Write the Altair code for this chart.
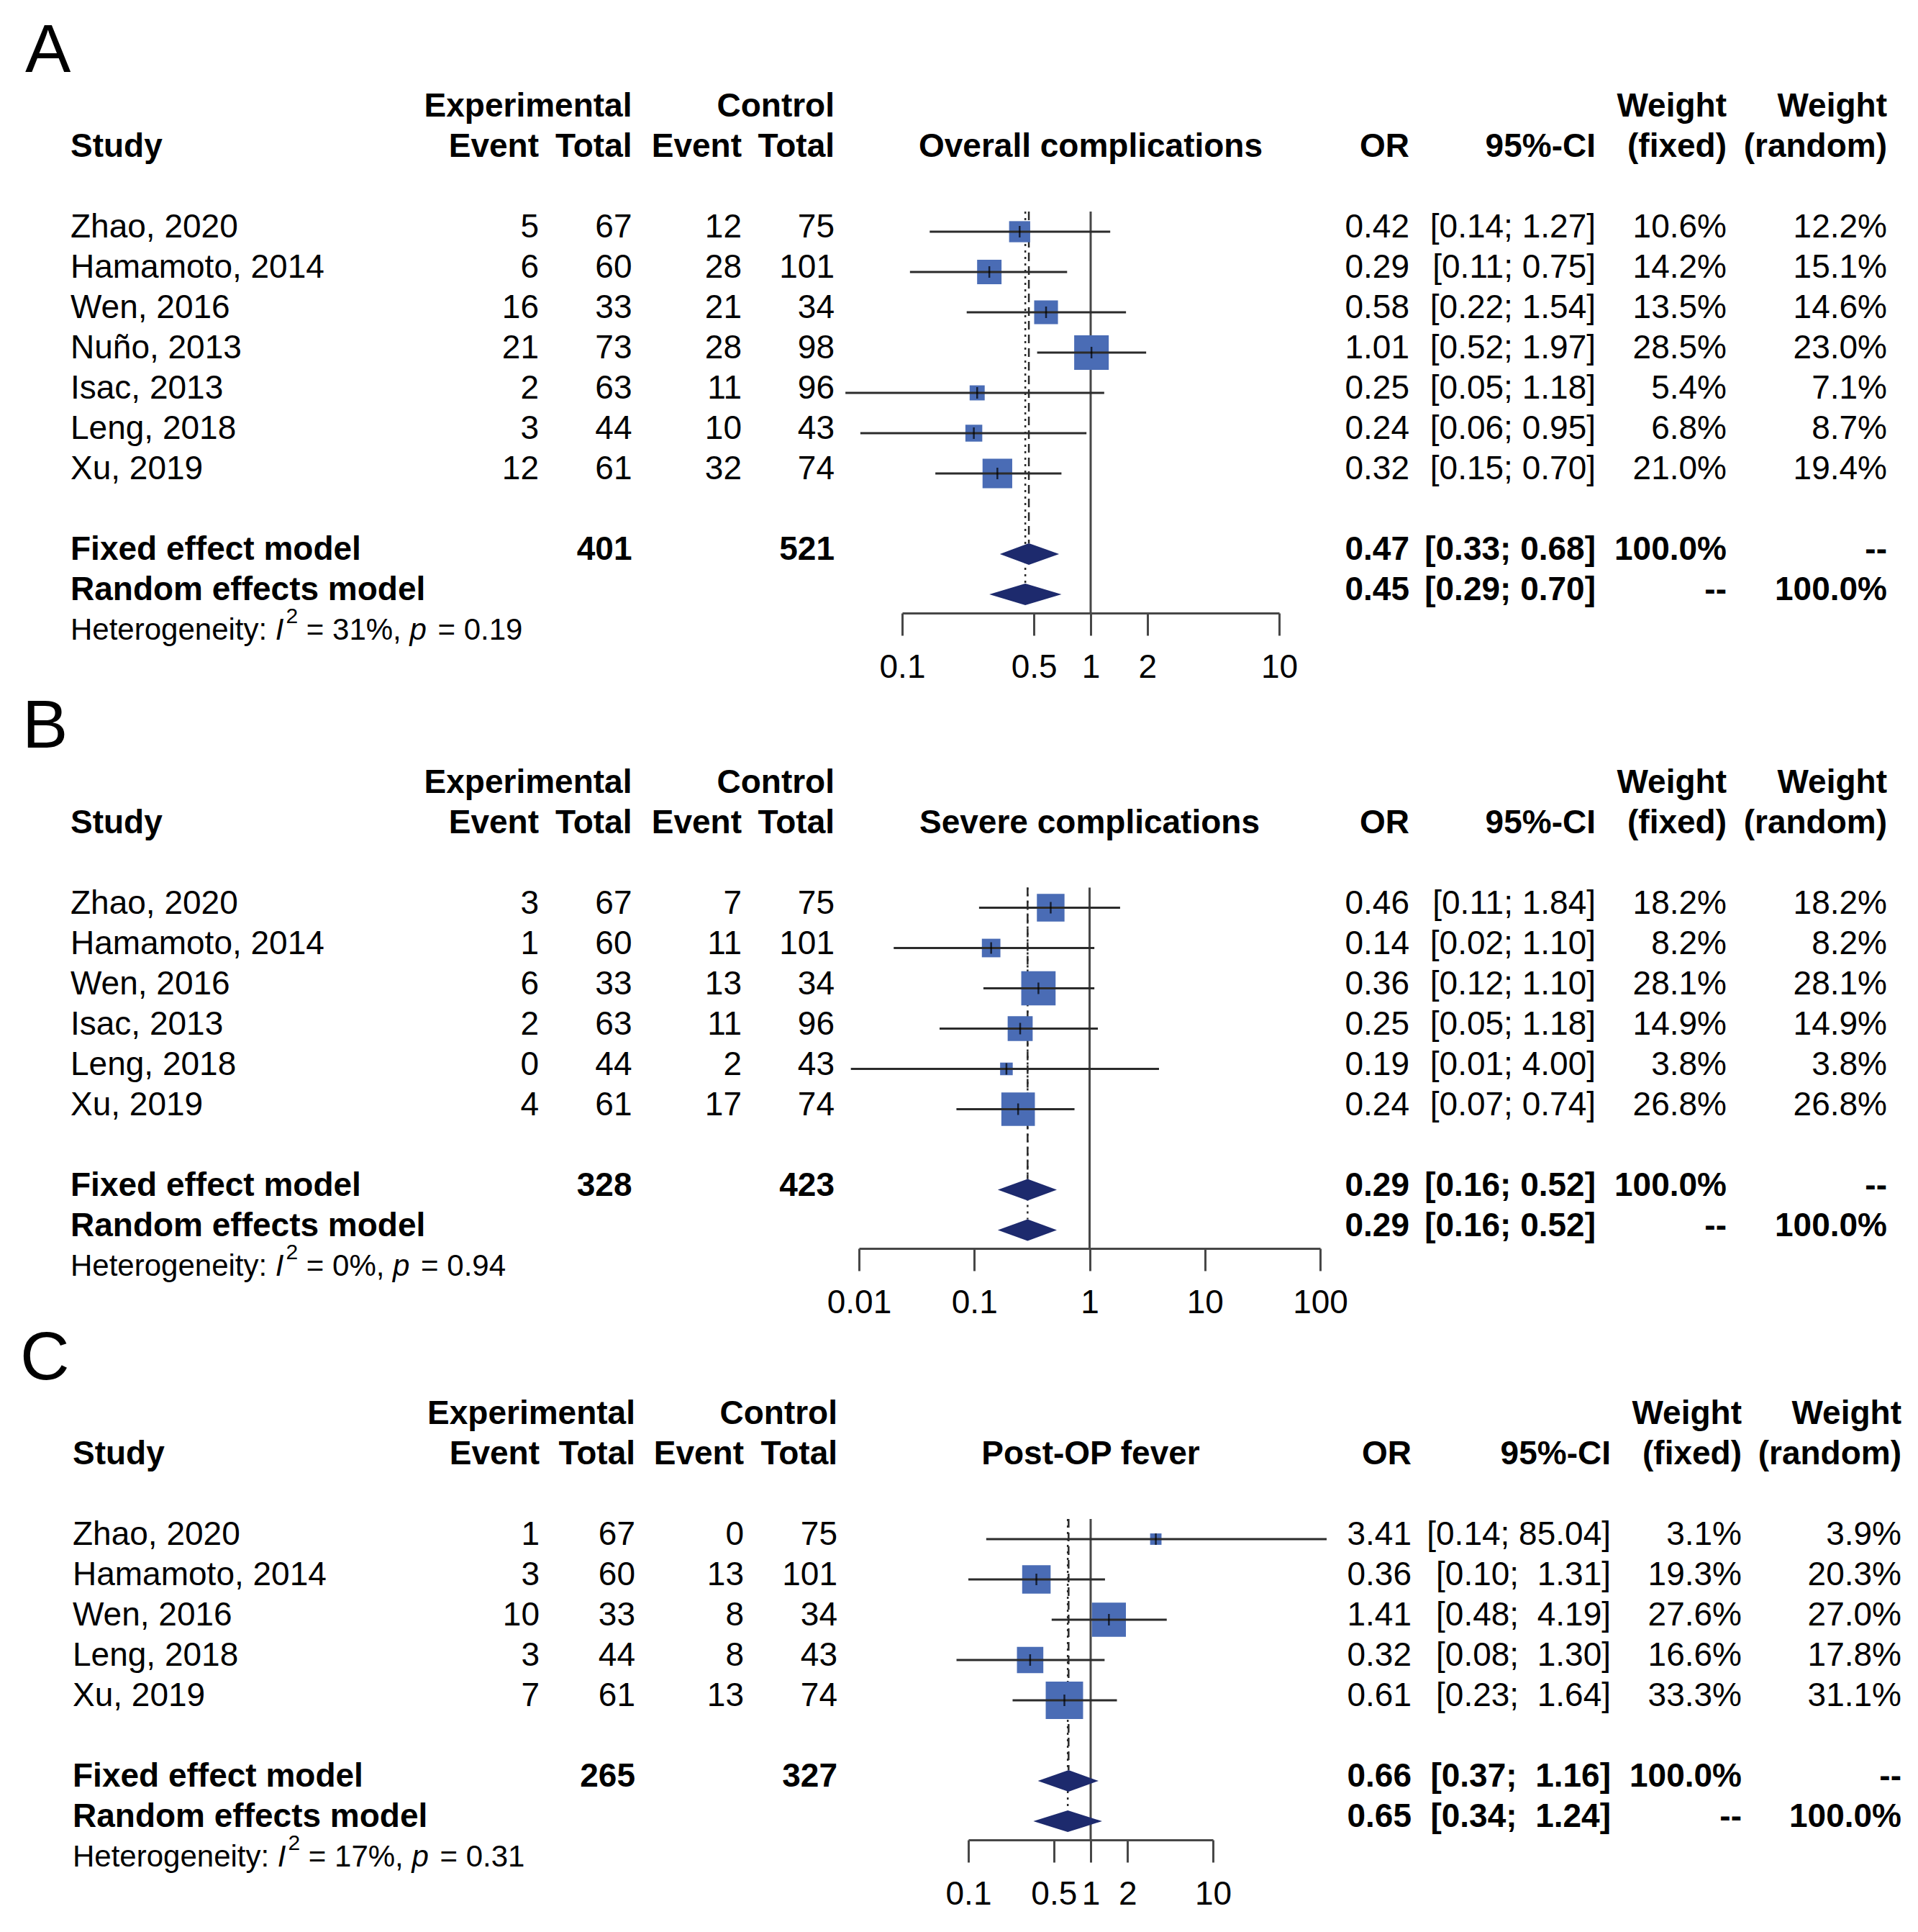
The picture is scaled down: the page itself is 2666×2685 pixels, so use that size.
import altair as alt
import pandas as pd

# ---------------- data ----------------
A_title = "Overall complications"
A_study = ["Zhao, 2020", "Hamamoto, 2014", "Wen, 2016", "Nu\u00f1o, 2013", "Isac, 2013", "Leng, 2018", "Xu, 2019"]
A_exp_event = [5, 6, 16, 21, 2, 3, 12]
A_exp_total = [67, 60, 33, 73, 63, 44, 61]
A_ctl_event = [12, 28, 21, 28, 11, 10, 32]
A_ctl_total = [75, 101, 34, 98, 96, 43, 74]
A_or = [0.42, 0.29, 0.58, 1.01, 0.25, 0.24, 0.32]
A_lo = [0.14, 0.11, 0.22, 0.52, 0.05, 0.06, 0.15]
A_hi = [1.27, 0.75, 1.54, 1.97, 1.18, 0.95, 0.70]
A_w_fixed = [10.6, 14.2, 13.5, 28.5, 5.4, 6.8, 21.0]
A_w_random = [12.2, 15.1, 14.6, 23.0, 7.1, 8.7, 19.4]
A_fixed = [0.47, 0.33, 0.68]
A_random = [0.45, 0.29, 0.70]
A_totals = [401, 521]
A_het = ["31%", "0.19"]
A_ticks = [0.1, 0.5, 1, 2, 10]

B_title = "Severe complications"
B_study = ["Zhao, 2020", "Hamamoto, 2014", "Wen, 2016", "Isac, 2013", "Leng, 2018", "Xu, 2019"]
B_exp_event = [3, 1, 6, 2, 0, 4]
B_exp_total = [67, 60, 33, 63, 44, 61]
B_ctl_event = [7, 11, 13, 11, 2, 17]
B_ctl_total = [75, 101, 34, 96, 43, 74]
B_or = [0.46, 0.14, 0.36, 0.25, 0.19, 0.24]
B_lo = [0.11, 0.02, 0.12, 0.05, 0.0085, 0.07]
B_hi = [1.84, 1.10, 1.10, 1.18, 4.00, 0.74]
B_w_fixed = [18.2, 8.2, 28.1, 14.9, 3.8, 26.8]
B_w_random = [18.2, 8.2, 28.1, 14.9, 3.8, 26.8]
B_fixed = [0.29, 0.16, 0.52]
B_random = [0.29, 0.16, 0.52]
B_totals = [328, 423]
B_het = ["0%", "0.94"]
B_ticks = [0.01, 0.1, 1, 10, 100]

C_title = "Post-OP fever"
C_study = ["Zhao, 2020", "Hamamoto, 2014", "Wen, 2016", "Leng, 2018", "Xu, 2019"]
C_exp_event = [1, 3, 10, 3, 7]
C_exp_total = [67, 60, 33, 44, 61]
C_ctl_event = [0, 13, 8, 8, 13]
C_ctl_total = [75, 101, 34, 43, 74]
C_or = [3.41, 0.36, 1.41, 0.32, 0.61]
C_lo = [0.14, 0.10, 0.48, 0.08, 0.23]
C_hi = [85.04, 1.31, 4.19, 1.30, 1.64]
C_w_fixed = [3.1, 19.3, 27.6, 16.6, 33.3]
C_w_random = [3.9, 20.3, 27.0, 17.8, 31.1]
C_fixed = [0.66, 0.37, 1.16]
C_random = [0.65, 0.34, 1.24]
C_totals = [265, 327]
C_het = ["17%", "0.31"]
C_ticks = [0.1, 0.5, 1, 2, 10]

# ---------------- layout / style ----------------
FONT = "Liberation Sans"
FS = 46
HET_FS = 42
SUP_FS = 30
ROW = 56.0
OFF = 8  # page margin
TDY = -0.107  # text vertical offset (rows)
DH = 0.27  # diamond half height (rows)
SQ_COL = "#4A6CB5"
DIA_COL = "#1D2A6D"
LINE_COL = "#2b2b2b"
AX_COL = "#474747"

LAYOUT = {
    "A": dict(top=8, hdr=154, axis=852, letter_x=35, left=98,
              cols=[749, 878.5, 1031, 1160, 1959, 2218, 2400, 2623],
              xr=[1254, 1778], k=9.0),
    "B": dict(top=952, hdr=1093.5, axis=1735, letter_x=31, left=98,
              cols=[749, 878.5, 1031, 1160, 1959, 2218, 2400, 2623],
              xr=[1194, 1835], k=9.0),
    "C": dict(top=1835, hdr=1971, axis=2557, letter_x=28, left=101,
              cols=[750, 883, 1034, 1164, 1962, 2239, 2421, 2643],
              xr=[1346, 1686], k=8.2),
}

ARIAL = {' ': 278, '%': 889, ',': 278, '.': 278, ':': 278, '=': 584, 'H': 722, 'I': 278,
         'e': 556, 't': 278, 'r': 333, 'o': 556, 'g': 556, 'n': 556, 'i': 222, 'y': 500, 'p': 556}
for _d in "0123456789":
    ARIAL[_d] = 556


def tw(s, size):
    return sum(ARIAL.get(c, 556) for c in s) * size / 1000.0


PANELS = [
    ("A", dict(title=A_title, study=A_study, ee=A_exp_event, et=A_exp_total, ce=A_ctl_event,
               ct=A_ctl_total, orr=A_or, lo=A_lo, hi=A_hi, wf=A_w_fixed, wr=A_w_random,
               fixed=A_fixed, random=A_random, tot=A_totals, het=A_het, ticks=A_ticks)),
    ("B", dict(title=B_title, study=B_study, ee=B_exp_event, et=B_exp_total, ce=B_ctl_event,
               ct=B_ctl_total, orr=B_or, lo=B_lo, hi=B_hi, wf=B_w_fixed, wr=B_w_random,
               fixed=B_fixed, random=B_random, tot=B_totals, het=B_het, ticks=B_ticks)),
    ("C", dict(title=C_title, study=C_study, ee=C_exp_event, et=C_exp_total, ce=C_ctl_event,
               ct=C_ctl_total, orr=C_or, lo=C_lo, hi=C_hi, wf=C_w_fixed, wr=C_w_random,
               fixed=C_fixed, random=C_random, tot=C_totals, het=C_het, ticks=C_ticks)),
]

WIDTH = 2642


def fmt_ci(lo, hi, width):
    h = f"{hi:.2f}"
    pad = "\u00a0" * (width - len(h))
    return f"[{lo:.2f}; {pad}{h}]"


def panel(letter, d, L):
    n = len(d["study"])
    rt = (L["top"] - L["hdr"]) / ROW
    rb = (L["axis"] - L["hdr"]) / ROW
    H = L["axis"] - L["top"]
    ticks = d["ticks"]
    yscale = alt.Scale(domain=[rt, rb], range=[0, H], nice=False, zero=False)
    xscale = alt.Scale(type="log", domain=[ticks[0], ticks[-1]],
                       range=[L["xr"][0] - OFF, L["xr"][1] - OFF], nice=False)
    xaxis = alt.Axis(values=ticks, format="~g", title=None, grid=False,
                     domainWidth=3, domainColor=AX_COL, tickWidth=3, tickColor=AX_COL,
                     tickSize=31, labelPadding=22, labelFont=FONT, labelFontSize=FS,
                     labelColor="black", labelOverlap=False, labelFlush=False, labelBound=False)

    def X(f):
        return alt.X(f, type="quantitative", scale=xscale, axis=xaxis)

    def XD(v):
        return alt.XDatum(v, type="quantitative", scale=xscale, axis=xaxis)

    def Y(f):
        return alt.Y(f, type="quantitative", scale=yscale, axis=None)

    def YD(v):
        return alt.YDatum(v, type="quantitative", scale=yscale, axis=None)

    rows = [3 + i for i in range(n)]
    r_fix = 3 + n + 1
    r_ran = 3 + n + 2
    r_het = 3 + n + 3
    colx = dict(zip(["ee", "et", "ce", "ct", "or", "ci", "wf", "wr"], L["cols"]))

    hi_w = max(len(f"{v:.2f}") for v in list(d["hi"]) + [d["fixed"][2], d["random"][2]])

    cells = []  # (row, col, label, bold)
    cells += [(0, "et", "Experimental", True), (0, "ct", "Control", True),
              (0, "wf", "Weight", True), (0, "wr", "Weight", True),
              (1, "left", "Study", True), (1, "ee", "Event", True), (1, "et", "Total", True),
              (1, "ce", "Event", True), (1, "ct", "Total", True), (1, "or", "OR", True),
              (1, "ci", "95%-CI", True), (1, "wf", "(fixed)", True), (1, "wr", "(random)", True)]
    for i, r in enumerate(rows):
        cells += [(r, "left", d["study"][i], False),
                  (r, "ee", str(d["ee"][i]), False), (r, "et", str(d["et"][i]), False),
                  (r, "ce", str(d["ce"][i]), False), (r, "ct", str(d["ct"][i]), False),
                  (r, "or", f"{d['orr'][i]:.2f}", False),
                  (r, "ci", fmt_ci(d["lo"][i], d["hi"][i], hi_w), False),
                  (r, "wf", f"{d['wf'][i]:.1f}%", False), (r, "wr", f"{d['wr'][i]:.1f}%", False)]
    fx, rn = d["fixed"], d["random"]
    cells += [(r_fix, "left", "Fixed effect model", True),
              (r_fix, "et", str(d["tot"][0]), True), (r_fix, "ct", str(d["tot"][1]), True),
              (r_fix, "or", f"{fx[0]:.2f}", True), (r_fix, "ci", fmt_ci(fx[1], fx[2], hi_w), True),
              (r_fix, "wf", "100.0%", True), (r_fix, "wr", "--", True),
              (r_ran, "left", "Random effects model", True),
              (r_ran, "or", f"{rn[0]:.2f}", True), (r_ran, "ci", fmt_ci(rn[1], rn[2], hi_w), True),
              (r_ran, "wf", "--", True), (r_ran, "wr", "100.0%", True)]
    cdf = pd.DataFrame(cells, columns=["row", "col", "label", "bold"])
    cdf["ty"] = cdf["row"] + TDY

    layers = []

    # reference lines (behind)
    one = pd.DataFrame({"v": [1]})
    layers.append(alt.Chart(one).mark_rule(color=AX_COL, strokeWidth=3).encode(
        x=XD(1), y=YD(2.5), y2=alt.Y2Datum(rb)))
    layers.append(alt.Chart(one).mark_rule(color=LINE_COL, strokeWidth=2.5, strokeDash=[12, 7]).encode(
        x=XD(fx[0]), y=YD(2.5), y2=alt.Y2Datum(r_fix - DH)))
    layers.append(alt.Chart(one).mark_rule(color=LINE_COL, strokeWidth=2.5, strokeDash=[3, 6]).encode(
        x=XD(rn[0]), y=YD(2.5), y2=alt.Y2Datum(r_ran - DH)))

    # studies
    sdf = pd.DataFrame({"row": rows, "or": d["orr"], "lo": d["lo"], "hi": d["hi"], "wf": d["wf"]})
    k = L["k"]
    layers.append(alt.Chart(sdf).mark_square(color=SQ_COL, opacity=1, strokeWidth=0).encode(
        x=X("or"), y=Y("row"),
        size=alt.Size("wf:Q", scale=alt.Scale(type="linear", domain=[0, 100], range=[0, k * k * 100]),
                      legend=None)))
    layers.append(alt.Chart(sdf).mark_rule(color=LINE_COL, strokeWidth=3).encode(
        x=X("lo"), x2=alt.X2("hi"), y=Y("row")))
    layers.append(alt.Chart(sdf).mark_tick(orient="vertical", size=16, thickness=2.5, color="black").encode(
        x=X("or"), y=Y("row")))

    # diamonds
    ddf = pd.DataFrame({
        "model": ["fixed"] * 3 + ["random"] * 3,
        "x": [fx[1], fx[0], fx[2], rn[1], rn[0], rn[2]],
        "y": [r_fix, r_fix - DH, r_fix, r_ran, r_ran - DH, r_ran],
        "y2": [r_fix, r_fix + DH, r_fix, r_ran, r_ran + DH, r_ran],
    })
    layers.append(alt.Chart(ddf).mark_area(color=DIA_COL, orient="vertical", opacity=1).encode(
        x=X("x"), y=Y("y"), y2=alt.Y2("y2"), detail="model:N"))

    # letter
    layers.append(alt.Chart(pd.DataFrame({"label": [letter]})).mark_text(
        align="left", baseline="middle", font=FONT, fontSize=95, color="black").encode(
        x=alt.value(L["letter_x"] - OFF), y=YD(-1.49), text="label:N"))

    # title
    layers.append(alt.Chart(pd.DataFrame({"label": [d["title"]]})).mark_text(
        align="center", baseline="middle", font=FONT, fontSize=FS, fontWeight="bold", color="black").encode(
        x=XD(1), y=YD(1 + TDY), text="label:N"))

    # text columns
    for col in ["left", "ee", "et", "ce", "ct", "or", "ci", "wf", "wr"]:
        xpx = (L["left"] if col == "left" else colx[col]) - OFF
        align = "left" if col == "left" else "right"
        for bold in [False, True]:
            sub = cdf[(cdf["col"] == col) & (cdf["bold"] == bold)]
            if len(sub) == 0:
                continue
            layers.append(alt.Chart(sub[["ty", "label"]]).mark_text(
                align=align, baseline="middle", font=FONT, fontSize=FS,
                fontWeight="bold" if bold else "normal", color="black").encode(
                x=alt.value(xpx), y=Y("ty"), text="label:N"))

    # heterogeneity (segments without leading/trailing spaces)
    s1 = "Heterogeneity:"
    s4 = f"= {d['het'][0]},"
    s6 = f"= {d['het'][1]}"
    sp = tw(" ", HET_FS)
    x1 = L["left"] - OFF
    xI = x1 + tw(s1, HET_FS) + sp
    x2 = xI + tw("I", HET_FS) + 3
    x4 = x2 + tw("2", SUP_FS) + sp
    xp = x4 + tw(s4, HET_FS) + sp
    x6 = xp + tw("p", HET_FS) + 4 + sp
    segs = [(s1, x1, HET_FS, "normal", 0), ("I", xI, HET_FS, "italic", 0), ("2", x2, SUP_FS, "normal", -19),
            (s4, x4, HET_FS, "normal", 0), ("p", xp, HET_FS, "italic", 0), (s6, x6, HET_FS, "normal", 0)]
    for txt, xx, fs, style, dy in segs:
        layers.append(alt.Chart(pd.DataFrame({"label": [txt]})).mark_text(
            align="left", baseline="middle", font=FONT, fontSize=fs, fontStyle=style, dy=dy,
            color="black").encode(x=alt.value(xx), y=YD(r_het + TDY), text="label:N"))

    return alt.layer(*layers).properties(width=WIDTH, height=H)


charts = [panel(letter, d, LAYOUT[letter]) for letter, d in PANELS]
chart = alt.vconcat(*charts, spacing=100, bounds="flush").properties(padding=0).configure_view(stroke=None)

chart.save("out.html", embed_options={"renderer": "svg", "actions": False})
